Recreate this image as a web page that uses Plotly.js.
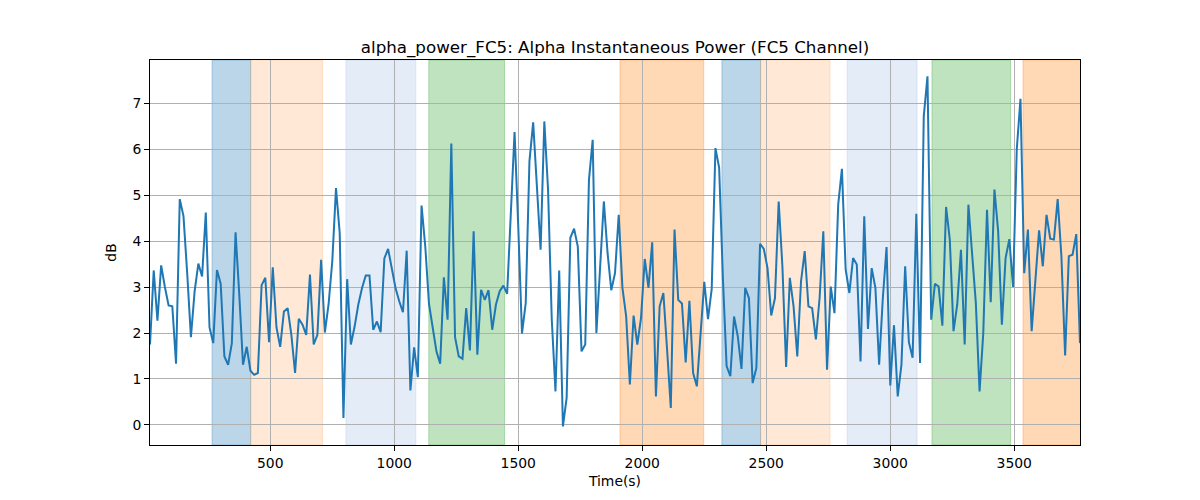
<!DOCTYPE html>
<html>
<head>
<meta charset="utf-8">
<script src="https://cdn.plot.ly/plotly-3.0.1.min.js"></script>
<style>
  body { margin: 0; background: #fff; }
  #chart { width: 1200px; height: 500px; }
</style>
</head>
<body>
<div id="chart"></div>
<script>
// alpha power, one sample every 15 s
var step = 15;
var power = [
  1.75, 3.36, 2.27, 3.47, 3.00, 2.60, 2.58, 1.33, 4.91, 4.54,
  3.30, 1.91, 2.91, 3.51, 3.23, 4.62, 2.12, 1.78, 3.37, 3.07,
  1.49, 1.31, 1.78, 4.19, 2.83, 1.31, 1.70, 1.18, 1.09, 1.13,
  3.04, 3.20, 1.80, 3.43, 2.12, 1.70, 2.47, 2.54, 1.96, 1.13,
  2.31, 2.18, 1.96, 3.27, 1.75, 1.96, 3.59, 2.01, 2.62, 3.56,
  5.15, 4.17, 0.15, 3.17, 1.75, 2.14, 2.62, 2.98, 3.25, 3.25,
  2.07, 2.25, 2.02, 3.62, 3.83, 3.41, 2.98, 2.69, 2.45, 3.79,
  0.75, 1.69, 1.04, 4.77, 3.88, 2.63, 2.14, 1.60, 1.33, 3.21,
  2.29, 6.12, 1.91, 1.49, 1.44, 2.54, 1.62, 4.21, 1.53, 2.94,
  2.72, 2.93, 2.07, 2.62, 2.91, 3.03, 2.85, 4.60, 6.37, 4.30,
  1.99, 2.65, 5.73, 6.58, 5.19, 3.81, 6.60, 5.12, 2.30, 0.73,
  3.36, -0.03, 0.59, 4.07, 4.27, 3.88, 1.60, 1.75, 5.33, 6.20,
  2.00, 3.45, 4.86, 3.74, 2.93, 3.30, 4.57, 2.98, 2.36, 0.88,
  2.38, 1.75, 2.33, 3.61, 2.98, 3.97, 0.62, 2.58, 2.87, 1.64,
  0.37, 4.25, 2.72, 2.64, 1.36, 2.70, 1.13, 0.84, 2.04, 3.11,
  2.30, 2.96, 6.02, 5.59, 3.20, 1.28, 1.06, 2.36, 1.93, 1.22,
  2.98, 2.76, 0.91, 1.24, 3.94, 3.83, 3.41, 2.38, 2.76, 4.86,
  3.45, 1.26, 3.20, 2.58, 1.49, 3.12, 3.78, 2.58, 2.54, 1.86,
  2.76, 4.21, 1.20, 3.01, 2.43, 4.79, 5.57, 3.38, 2.87, 3.63,
  3.49, 1.38, 4.54, 2.09, 3.41, 2.98, 1.31, 2.76, 3.87, 0.86,
  2.17, 0.62, 1.31, 3.45, 1.80, 1.46, 4.59, 1.35, 6.71, 7.58,
  2.29, 3.07, 3.01, 2.16, 4.74, 4.03, 2.04, 2.62, 3.81, 1.75,
  4.79, 3.67, 2.65, 0.73, 2.00, 4.68, 2.67, 5.12, 4.21, 2.18,
  3.63, 4.04, 3.00, 5.99, 7.09, 3.30, 4.25, 2.04, 3.09, 4.23,
  3.45, 4.57, 4.05, 4.03, 4.91, 3.67, 1.51, 3.67, 3.70, 4.15,
  1.78
];

// shaded condition windows (seconds)
var bandStart = [265, 421, 805, 1139, 1910, 2321, 2477, 2826, 3168, 3535];
var bandEnd   = [421, 711, 1087, 1445, 2248, 2477, 2757, 3108, 3485, 3770];
var bandColor = [
  'rgba(31,119,180,0.3)', 'rgba(255,127,14,0.17)', 'rgba(120,160,220,0.2)',
  'rgba(44,160,44,0.3)', 'rgba(255,127,14,0.3)', 'rgba(31,119,180,0.3)',
  'rgba(255,127,14,0.17)', 'rgba(120,160,220,0.2)', 'rgba(44,160,44,0.3)',
  'rgba(255,127,14,0.3)'
];

var times = [];
for (var i = 0; i < power.length; i++) times.push(step * (i + 1));

var shapes = [];
for (var b = 0; b < bandStart.length; b++) {
  shapes.push({
    type: 'rect', xref: 'x', yref: 'paper',
    x0: bandStart[b], x1: bandEnd[b], y0: 0, y1: 1,
    fillcolor: bandColor[b],
    line: {width: 1, color: bandColor[b]},
    layer: 'below'
  });
}

var trace = {
  x: times,
  y: power,
  mode: 'lines',
  line: {color: '#1f77b4', width: 2},
  type: 'scatter'
};

var font = {family: 'DejaVu Sans', size: 13.9, color: '#000'};

var layout = {
  width: 1200,
  height: 500,
  showlegend: false,
  paper_bgcolor: '#fff',
  plot_bgcolor: 'rgba(0,0,0,0)',
  margin: {l: 150, r: 120, t: 60, b: 55, pad: 0},
  font: font,
  title: {
    text: 'alpha_power_FC5: Alpha Instantaneous Power (FC5 Channel)',
    font: {family: 'DejaVu Sans', size: 16.7, color: '#000'},
    x: 0.5, xref: 'paper', xanchor: 'center',
    y: 1, yref: 'paper', yanchor: 'bottom',
    pad: {b: 7}
  },
  xaxis: {
    range: [times[0], times[times.length - 1]],
    tickvals: [500, 1000, 1500, 2000, 2500, 3000, 3500],
    ticks: 'outside', ticklen: 5, tickcolor: '#000', tickwidth: 1,
    showline: true, linecolor: '#000', linewidth: 1, mirror: true,
    showgrid: true, gridcolor: '#b0b0b0', gridwidth: 1,
    zeroline: false,
    tickfont: font,
    title: {text: 'Time(s)', font: font, standoff: 6}
  },
  yaxis: {
    range: [-0.435, 7.935],
    tickvals: [0, 1, 2, 3, 4, 5, 6, 7],
    ticks: 'outside', ticklen: 5, tickcolor: '#000', tickwidth: 1,
    showline: true, linecolor: '#000', linewidth: 1, mirror: true,
    showgrid: true, gridcolor: '#b0b0b0', gridwidth: 1,
    zeroline: false,
    tickfont: font,
    title: {text: 'dB', font: font, standoff: 12}
  },
  shapes: shapes
};

Plotly.newPlot('chart', [trace], layout, {displayModeBar: false, staticPlot: true});
</script>
</body>
</html>
